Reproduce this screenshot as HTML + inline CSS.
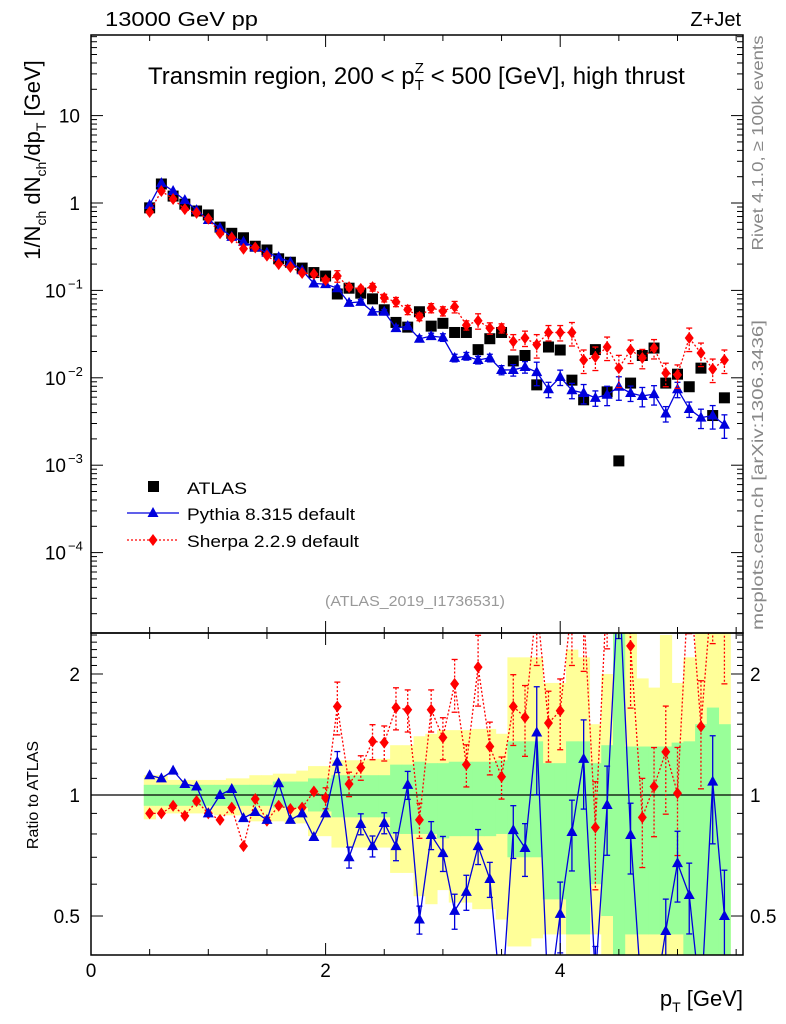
<!DOCTYPE html>
<html><head><meta charset="utf-8"><style>
body{margin:0;background:#fff;}
svg{display:block;font-family:"Liberation Sans",sans-serif;}
</style></head><body>
<svg id="c" width="786" height="1024" viewBox="0 0 786 1024"></svg>
<script>
const xs=[0.5,0.6,0.7,0.8,0.9,1.0,1.1,1.2,1.3,1.4,1.5,1.6,1.7,1.8,1.9,2.0,2.1,2.2,2.3,2.4,2.5,2.6,2.7,2.8,2.9,3.0,3.1,3.2,3.3,3.4,3.5,3.6,3.7,3.8,3.9,4.0,4.1,4.2,4.3,4.4,4.5,4.6,4.7,4.8,4.9,5.0,5.1,5.2,5.3,5.4];
const atlas=[0.88,1.65,1.20,0.97,0.81,0.73,0.53,0.45,0.40,0.32,0.29,0.23,0.21,0.18,0.16,0.146,0.091,0.106,0.093,0.080,0.060,0.043,0.038,0.057,0.039,0.042,0.033,0.033,0.021,0.028,0.033,0.0156,0.018,0.0083,0.0225,0.0208,0.0094,0.0056,0.021,0.0069,0.00112,0.0087,0.018,0.0219,0.0087,0.011,0.0079,0.0129,0.0037,0.0059];
const pythia=[0.95,1.69,1.37,1.08,0.83,0.64,0.52,0.41,0.36,0.31,0.27,0.24,0.21,0.17,0.12,0.118,0.106,0.072,0.074,0.057,0.057,0.037,0.039,0.028,0.030,0.029,0.0169,0.0177,0.016,0.0169,0.0123,0.0123,0.0133,0.0116,0.0074,0.0102,0.0072,0.0067,0.0059,0.0064,0.0079,0.0067,0.0062,0.0065,0.0039,0.0074,0.0044,0.0035,0.0037,0.0029];
const sherpa=[0.79,1.37,1.11,0.85,0.77,0.66,0.45,0.40,0.30,0.31,0.25,0.20,0.185,0.158,0.154,0.131,0.146,0.109,0.104,0.109,0.082,0.074,0.060,0.050,0.063,0.058,0.065,0.040,0.045,0.037,0.037,0.026,0.0285,0.024,0.033,0.033,0.033,0.016,0.0173,0.0225,0.0129,0.0208,0.0169,0.0219,0.0113,0.0108,0.0285,0.0192,0.0126,0.016];
const pythiaRatio=[1.12,1.10,1.15,1.065,1.05,0.90,1.0,1.035,0.876,0.907,0.867,1.07,0.867,0.90,0.786,0.90,1.21,0.70,0.847,0.746,0.852,0.746,1.06,0.49,0.795,0.717,0.515,0.574,0.746,0.618,0.30,0.818,0.738,1.43,0.30,0.506,0.809,1.23,0.35,0.944,3.5,0.795,0.30,0.30,0.459,0.677,0.564,0.30,1.08,0.50];
const sherpaRatio=[0.90,0.90,0.94,0.887,0.966,0.90,0.867,0.93,0.746,0.977,0.863,0.94,0.923,0.93,1.02,0.983,1.66,1.065,1.17,1.36,1.35,1.65,1.63,0.867,1.63,1.39,1.89,1.19,2.08,1.32,1.11,1.66,1.56,3.0,1.51,1.62,3.0,2.9,0.83,3.3,11,2.35,0.88,1.05,1.28,1.01,3.6,1.48,3.4,2.7];
const pyErr=[0.02,0.02,0.02,0.02,0.02,0.025,0.025,0.03,0.03,0.03,0.03,0.035,0.035,0.04,0.04,0.04,0.06,0.06,0.06,0.06,0.06,0.08,0.08,0.08,0.08,0.1,0.1,0.1,0.1,0.1,0.12,0.15,0.15,0.3,0.2,0.2,0.2,0.25,0.2,0.25,0.3,0.2,0.25,0.25,0.2,0.2,0.2,0.25,0.3,0.3];
const shErr=[0.02,0.02,0.02,0.02,0.02,0.025,0.025,0.03,0.03,0.04,0.04,0.04,0.04,0.05,0.05,0.06,0.15,0.07,0.07,0.1,0.1,0.12,0.12,0.1,0.12,0.12,0.15,0.12,0.2,0.15,0.12,0.2,0.2,0.3,0.2,0.2,0.3,0.3,0.3,0.3,0.4,0.3,0.25,0.25,0.3,0.3,0.3,0.3,0.3,0.3];
const yellowUp=[1.12,1.12,1.09,1.09,1.09,1.09,1.09,1.10,1.10,1.12,1.12,1.13,1.13,1.15,1.18,1.18,1.22,1.22,1.22,1.23,1.23,1.33,1.33,1.40,1.42,1.45,1.45,1.45,1.46,1.46,1.42,2.2,2.2,2.2,1.9,1.9,2.3,2.2,1.5,2.0,2.6,2.6,1.95,1.85,2.5,1.9,2.2,2.6,2.6,2.6];
const yellowLo=[0.87,0.90,0.90,0.90,0.90,0.90,0.89,0.89,0.89,0.86,0.86,0.86,0.85,0.85,0.79,0.79,0.74,0.74,0.74,0.74,0.74,0.64,0.64,0.56,0.535,0.58,0.54,0.54,0.52,0.52,0.49,0.42,0.42,0.44,0.45,0.45,0.3,0.3,0.45,0.3,0.3,0.3,0.35,0.35,0.3,0.3,0.3,0.3,0.3,0.3];
const greenUp=[1.06,1.06,1.06,1.06,1.06,1.06,1.06,1.06,1.06,1.06,1.06,1.08,1.08,1.08,1.10,1.10,1.12,1.12,1.12,1.12,1.12,1.19,1.19,1.21,1.20,1.20,1.21,1.21,1.21,1.21,1.22,1.36,1.36,1.36,1.2,1.2,1.36,1.36,1.2,1.33,2.6,1.32,1.32,1.32,1.32,1.35,1.36,1.5,1.65,1.5];
const greenLo=[0.94,0.94,0.94,0.94,0.94,0.94,0.94,0.94,0.94,0.94,0.94,0.93,0.93,0.93,0.91,0.91,0.88,0.88,0.88,0.88,0.88,0.80,0.80,0.80,0.80,0.78,0.79,0.79,0.79,0.79,0.80,0.70,0.70,0.70,0.55,0.55,0.45,0.45,0.6,0.5,0.3,0.45,0.45,0.45,0.45,0.45,0.4,0.35,0.3,0.35];
const xTicks=[0,2,4];
const mainTicks=[10,1,0.1,0.01,0.001,0.0001];
const mainTickLabels=["10","1","10","10","10","10"];
const mainTickExp=["","","−1","−2","−3","−4"];
const ratioTicks=[0.5,1,2];
const ratioTickLabels=["0.5","1","2"];

const NS="http://www.w3.org/2000/svg";
const svg=document.getElementById('c');
const L=91,R=743,T=35,MB=633,RB=955;
const X=v=>L+117.3*v;
const YM=v=>203-87.4*Math.log10(v);
const YR=v=>795-402*Math.log10(v);
function el(tag,attrs,parent){const e=document.createElementNS(NS,tag);for(const k in attrs)e.setAttribute(k,attrs[k]);(parent||svg).appendChild(e);return e;}
function txt(s,attrs,parent){const e=el('text',attrs,parent);e.textContent=s;return e;}
const defs=el('defs',{});
const cm=el('clipPath',{id:'cm'},defs);el('rect',{x:L,y:T,width:R-L,height:MB-T},cm);
const cr=el('clipPath',{id:'cr'},defs);el('rect',{x:L,y:MB,width:R-L,height:RB-MB},cr);

const gb=el('g',{'clip-path':'url(#cr)'});


xs.forEach((x,i)=>{
  const r1=el('rect',{x:X(x-0.05),width:117.3*0.1+0.5,y:YR(yellowUp[i]),height:YR(yellowLo[i])-YR(yellowUp[i]),fill:'#ffff99'},gb);
  
  
});
xs.forEach((x,i)=>{
  const r2=el('rect',{x:X(x-0.05),width:117.3*0.1+0.5,y:YR(greenUp[i]),height:YR(greenLo[i])-YR(greenUp[i]),fill:'#99ff99'},gb);
  
  
});
el('line',{x1:L,x2:R,y1:YR(1),y2:YR(1),stroke:'#000','stroke-width':1.3},gb);

function tri(g,x,y,c){return el('polygon',{points:`${x},${y-6} ${x-5.5},${y+4} ${x+5.5},${y+4}`,fill:c},g);}
function dia(g,x,y,c){return el('polygon',{points:`${x},${y-6} ${x+4.5},${y} ${x},${y+6} ${x-4.5},${y}`,fill:c},g);}
function series(g,vals,errs,Y,color,dash,marker,name){
  const pts=xs.map((x,i)=>X(x)+','+Y(vals[i])).join(' ');
  const pl=el('polyline',{points:pts,fill:'none',stroke:color,'stroke-width':1.3,'stroke-dasharray':dash||'none'},g);
  
  
  xs.forEach((x,i)=>{
    const v=vals[i],e=errs[i];
    if(e>0.05){const lo=Math.max(v*(1-e),1e-6);
      el('line',{x1:X(x),x2:X(x),y1:Y(v*(1+e)),y2:Y(lo),stroke:color,'stroke-width':1.3,'stroke-dasharray':dash||'none'},g);
      el('line',{x1:X(x)-3,x2:X(x)+3,y1:Y(v*(1+e)),y2:Y(v*(1+e)),stroke:color,'stroke-width':1.3},g);
      el('line',{x1:X(x)-3,x2:X(x)+3,y1:Y(lo),y2:Y(lo),stroke:color,'stroke-width':1.3},g);}
    const m=marker(g,X(x),Y(v),color);
    
    
  });
}
const gm=el('g',{'clip-path':'url(#cm)'});


xs.forEach((x,i)=>{
  const s=el('rect',{x:X(x)-5.5,y:YM(atlas[i])-5.5,width:11,height:11,fill:'#000'},gm);
  
  
});
series(gm,pythia,pyErr,YM,'#0000dd',null,tri,'pythia');
series(gm,sherpa,shErr,YM,'#ff0000','2,2',dia,'sherpa');
const gr=el('g',{'clip-path':'url(#cr)'});


series(gr,sherpaRatio,shErr,YR,'#ff0000','2,2',dia,'sherpa-ratio');
series(gr,pythiaRatio,pyErr,YR,'#0000dd',null,tri,'pythia-ratio');

el('rect',{x:L,y:T,width:R-L,height:MB-T,fill:'none',stroke:'#000','stroke-width':1.5});
el('rect',{x:L,y:MB,width:R-L,height:RB-MB,fill:'none',stroke:'#000','stroke-width':1.5});
for(let v=0;v<=5.5;v+=0.5){
  const big=Math.abs(v-Math.round(v/2)*2)<1e-6;
  const len=big?12:6;
  [T,MB].forEach(y0=>el('line',{x1:X(v),x2:X(v),y1:y0,y2:y0+len,stroke:'#000'}));
  [MB,RB].forEach(y0=>el('line',{x1:X(v),x2:X(v),y1:y0,y2:y0-len,stroke:'#000'}));
}
xTicks.forEach(v=>{const t=txt(String(v),{x:X(v),y:977,'font-size':19,'text-anchor':'middle'});
  });
for(let d=-5;d<=1;d++){for(let m=1;m<=9;m++){const v=m*Math.pow(10,d);const y=YM(v);if(y<T||y>MB)continue;
  const len=m===1?12:6;el('line',{x1:L,x2:L+len,y1:y,y2:y,stroke:'#000'});el('line',{x1:R,x2:R-len,y1:y,y2:y,stroke:'#000'});}}
mainTicks.forEach((v,i)=>{
  const t=txt(mainTickLabels[i],{x:i<2?80:66,y:YM(v)+7,'font-size':19,'text-anchor':'end'});
  
  if(mainTickExp[i]){txt(mainTickExp[i],{x:68,y:YM(v)-2,'font-size':13});}
});
[0.4,0.5,0.6,0.7,0.8,0.9,1,1.1,1.2,1.3,1.4,1.5,1.6,1.7,1.8,1.9,2,2.1,2.2,2.3,2.4,2.5].forEach(v=>{const y=YR(v);if(y<MB||y>RB)return;
  const len=(v===0.5||v===1||v===2)?12:6;el('line',{x1:L,x2:L+len,y1:y,y2:y,stroke:'#000'});el('line',{x1:R,x2:R-len,y1:y,y2:y,stroke:'#000'});});
ratioTicks.forEach((v,i)=>{
  const a=txt(ratioTickLabels[i],{x:80,y:YR(v)+7,'font-size':19,'text-anchor':'end'});
  
  const b=txt(ratioTickLabels[i],{x:750,y:YR(v)+7,'font-size':19});
  
});
</script>
<svg width="786" height="1024" style="position:absolute;left:0;top:0" font-family="Liberation Sans, sans-serif">
<text x="105" y="26" font-size="20" textLength="153" lengthAdjust="spacingAndGlyphs">13000 GeV pp</text>
<text x="741" y="26" font-size="20" text-anchor="end">Z+Jet</text>
<text x="148" y="84" font-size="24">Transmin region, 200 &lt; p<tspan font-size="15" dy="6">T</tspan><tspan font-size="15" dx="-9" dy="-17">Z</tspan><tspan dy="11"> &lt; 500 [GeV], high thrust</tspan></text>
<text transform="translate(40,160) rotate(-90)" font-size="22" text-anchor="middle">1/N<tspan font-size="14" dy="6">ch</tspan><tspan dy="-6"> dN</tspan><tspan font-size="14" dy="6">ch</tspan><tspan dy="-6">/dp</tspan><tspan font-size="14" dy="6">T</tspan><tspan dy="-6"> [GeV]</tspan></text>
<text transform="translate(763,143) rotate(-90)" font-size="16" fill="#888" text-anchor="middle" textLength="215" lengthAdjust="spacingAndGlyphs">Rivet 4.1.0, ≥ 100k events</text>
<text transform="translate(763,475) rotate(-90)" font-size="16" fill="#888" text-anchor="middle" textLength="310" lengthAdjust="spacingAndGlyphs">mcplots.cern.ch [arXiv:1306.3436]</text>
<text x="415" y="606" font-size="15" fill="#999" text-anchor="middle" textLength="180" lengthAdjust="spacingAndGlyphs">(ATLAS_2019_I1736531)</text>
<g>
<rect x="148" y="481" width="11" height="11" fill="#000"/>
<text x="187" y="494" font-size="17" textLength="60" lengthAdjust="spacingAndGlyphs">ATLAS</text>
<line x1="127" x2="179" y1="513" y2="513" stroke="#0000dd" stroke-width="1.3"/>
<polygon points="153,507 147.5,517 158.5,517" fill="#0000dd"/>
<text x="187" y="520" font-size="17" textLength="168" lengthAdjust="spacingAndGlyphs">Pythia 8.315 default</text>
<line x1="127" x2="179" y1="540" y2="540" stroke="#ff0000" stroke-width="1.3" stroke-dasharray="2,2"/>
<polygon points="153,534 157.5,540 153,546 148.5,540" fill="#ff0000"/>
<text x="187" y="547" font-size="17" textLength="172" lengthAdjust="spacingAndGlyphs">Sherpa 2.2.9 default</text>
</g>
<text transform="translate(38,795) rotate(-90)" font-size="16" text-anchor="middle">Ratio to ATLAS</text>
<text x="743" y="1006" font-size="22" text-anchor="end">p<tspan font-size="14" dy="6">T</tspan><tspan dy="-6"> [GeV]</tspan></text>
</svg>
</body></html>
